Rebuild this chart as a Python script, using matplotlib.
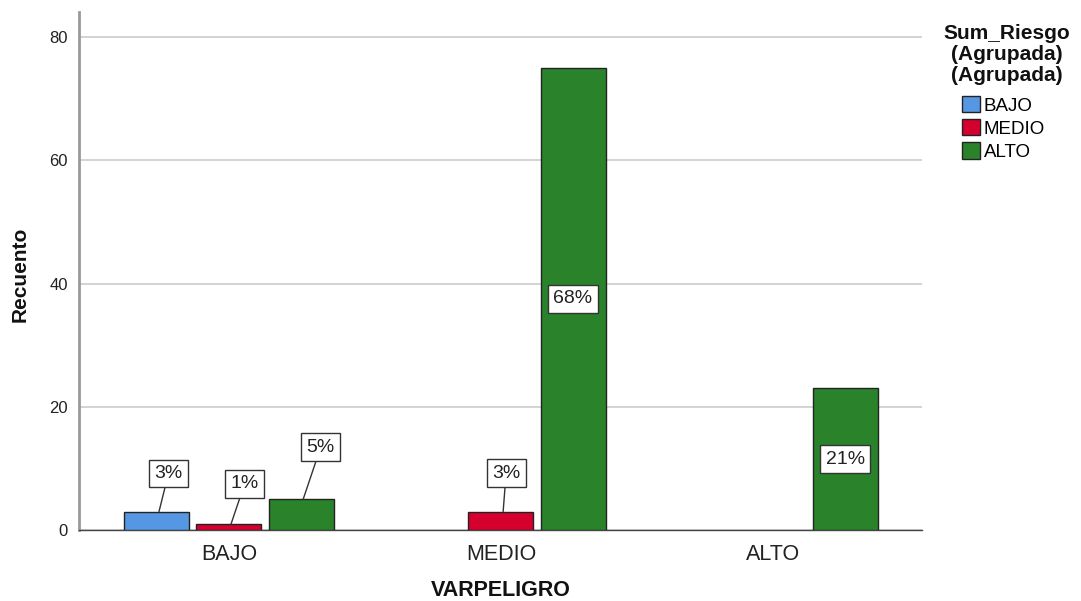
import numpy as np
import matplotlib
matplotlib.use("Agg")
from matplotlib import pyplot as plt
from matplotlib.patches import Patch

plt.rcParams['font.family'] = ['Liberation Sans', 'DejaVu Sans']

categories = ['BAJO', 'MEDIO', 'ALTO']
series = ['BAJO', 'MEDIO', 'ALTO']
counts_bajo = [3, 0, 0]
counts_medio = [1, 3, 0]
counts_alto = [5, 75, 23]
pct_bajo = ['3%', '', '']
pct_medio = ['1%', '3%', '']
pct_alto = ['5%', '68%', '21%']

colors = ['#5597e3', '#d6002f', '#2a832a']
bar_w = 0.239
step = 0.265

# label placement (pixels offset from bar top) for the small bars, others go inside
label_offsets = {
    (0, 0): (9.5, 38), (1, 0): (13.5, 40), (2, 0): (17.5, 52),
    (1, 1): (3, 38.5),
}

fig = plt.figure(figsize=(10.81, 6.01), dpi=100)
ax = fig.add_axes([0.0731, 0.1181, 0.853 - 0.0731, 0.980 - 0.1181])

x = np.arange(len(categories))
all_counts = [counts_bajo, counts_medio, counts_alto]
all_pcts = [pct_bajo, pct_medio, pct_alto]
for j, (vals, pcts) in enumerate(zip(all_counts, all_pcts)):
    for i, v in enumerate(vals):
        if v == 0:
            continue
        xi = x[i] + (j - 1) * step
        ax.bar(xi, v, width=bar_w, color=colors[j], edgecolor='#222222',
               linewidth=1.0, zorder=3)
        box = dict(boxstyle='square,pad=0.28', fc='white', ec='#333333', lw=1.0)
        if (j, i) in label_offsets:
            dx, dy = label_offsets[(j, i)]
            ax.annotate(pcts[i], xy=(xi + 0.008, v), xytext=(dx, dy),
                        textcoords='offset pixels', ha='center', va='center',
                        fontsize=14, color='#222222', bbox=box, zorder=5,
                        arrowprops=dict(arrowstyle='-', color='#333333', lw=1.0,
                                        shrinkA=0, shrinkB=0))
        else:
            ax.text(xi, v / 2, pcts[i], ha='center', va='center', fontsize=14,
                    color='#222222', bbox=box, zorder=5)

ax.set_xlim(-0.551, 2.548)
ax.set_ylim(0, 84.06)
ax.set_yticks([0, 20, 40, 60, 80])
ax.set_xticks(x)
ax.set_xticklabels(categories)
ax.tick_params(axis='y', length=0, labelsize=12, pad=8, labelcolor='#222222')
ax.tick_params(axis='x', length=0, labelsize=15.5, pad=10, labelcolor='#222222')
ax.yaxis.grid(True, color='#cccccc', lw=1.2, zorder=0)
ax.set_axisbelow(True)
for s in ['top', 'right']:
    ax.spines[s].set_visible(False)
ax.spines['left'].set_color('#999999')
ax.spines['left'].set_linewidth(2)
ax.spines['bottom'].set_color('#444444')
ax.spines['bottom'].set_linewidth(1)

fig.text(20 / 1081, 1 - 274 / 601, 'Recuento', rotation=90, ha='center', va='center',
         fontsize=15, fontweight='bold', color='#111111')
fig.text(501 / 1081, 1 - 590 / 601, 'VARPELIGRO', ha='center', va='center',
         fontsize=15.5, fontweight='bold', color='#111111')

# legend: title drawn separately, entries below
fig.text(1007 / 1081, 1 - 24 / 601, 'Sum_Riesgo\n(Agrupada)\n(Agrupada)',
         ha='center', va='top', fontsize=15, fontweight='bold',
         linespacing=1.13, color='#111111')
handles = [Patch(facecolor=c, edgecolor='#222222', label=s) for c, s in zip(colors, series)]
fig.legend(handles=handles, loc='upper left', bbox_to_anchor=(962 / 1081, 1 - 96 / 601),
           frameon=False, fontsize=13.5, handlelength=0.95, handleheight=0.95,
           handletextpad=0.2, labelspacing=0.25, borderpad=0, borderaxespad=0)

fig.savefig('out.png', dpi=100)
